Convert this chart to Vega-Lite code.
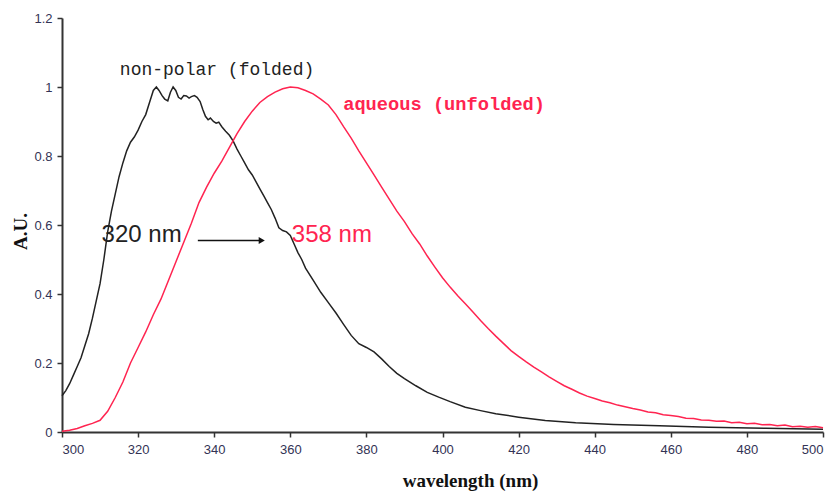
{
  "$schema": "https://vega.github.io/schema/vega-lite/v6.json",
  "autosize": "none",
  "width": 761,
  "height": 414,
  "padding": {"left": 62, "top": 18, "right": 16, "bottom": 62},
  "background": "white",
  "config": {"view": {"stroke": null}},
  "datasets": {
    "spectra": [
      {"wl": 300, "au": 0.105, "s": "non-polar"}, {"wl": 301, "au": 0.12, "s": "non-polar"}, {"wl": 302, "au": 0.14, "s": "non-polar"},
      {"wl": 303, "au": 0.165, "s": "non-polar"}, {"wl": 304, "au": 0.19, "s": "non-polar"}, {"wl": 305, "au": 0.215, "s": "non-polar"},
      {"wl": 306, "au": 0.25, "s": "non-polar"}, {"wl": 307, "au": 0.285, "s": "non-polar"}, {"wl": 308, "au": 0.33, "s": "non-polar"},
      {"wl": 309, "au": 0.38, "s": "non-polar"}, {"wl": 310, "au": 0.43, "s": "non-polar"}, {"wl": 311, "au": 0.5, "s": "non-polar"},
      {"wl": 312, "au": 0.58, "s": "non-polar"}, {"wl": 313, "au": 0.64, "s": "non-polar"}, {"wl": 314, "au": 0.69, "s": "non-polar"},
      {"wl": 315, "au": 0.74, "s": "non-polar"}, {"wl": 316, "au": 0.78, "s": "non-polar"}, {"wl": 317, "au": 0.815, "s": "non-polar"},
      {"wl": 318, "au": 0.84, "s": "non-polar"}, {"wl": 319, "au": 0.855, "s": "non-polar"}, {"wl": 320, "au": 0.875, "s": "non-polar"},
      {"wl": 321, "au": 0.9, "s": "non-polar"}, {"wl": 322, "au": 0.92, "s": "non-polar"}, {"wl": 323, "au": 0.955, "s": "non-polar"},
      {"wl": 324, "au": 0.99, "s": "non-polar"}, {"wl": 324.8, "au": 1.0, "s": "non-polar"}, {"wl": 325.5, "au": 0.99, "s": "non-polar"},
      {"wl": 326.3, "au": 0.975, "s": "non-polar"}, {"wl": 327, "au": 0.965, "s": "non-polar"}, {"wl": 327.8, "au": 0.96, "s": "non-polar"},
      {"wl": 328.5, "au": 0.985, "s": "non-polar"}, {"wl": 329.2, "au": 1.0, "s": "non-polar"}, {"wl": 329.9, "au": 0.99, "s": "non-polar"},
      {"wl": 330.6, "au": 0.97, "s": "non-polar"}, {"wl": 331.3, "au": 0.965, "s": "non-polar"}, {"wl": 332, "au": 0.975, "s": "non-polar"},
      {"wl": 332.7, "au": 0.974, "s": "non-polar"}, {"wl": 333.4, "au": 0.968, "s": "non-polar"}, {"wl": 334, "au": 0.972, "s": "non-polar"},
      {"wl": 334.8, "au": 0.975, "s": "non-polar"}, {"wl": 335.5, "au": 0.97, "s": "non-polar"}, {"wl": 336.3, "au": 0.958, "s": "non-polar"},
      {"wl": 337, "au": 0.935, "s": "non-polar"}, {"wl": 337.7, "au": 0.915, "s": "non-polar"}, {"wl": 338.4, "au": 0.905, "s": "non-polar"},
      {"wl": 339, "au": 0.91, "s": "non-polar"}, {"wl": 339.8, "au": 0.9, "s": "non-polar"}, {"wl": 340.5, "au": 0.895, "s": "non-polar"},
      {"wl": 341.2, "au": 0.898, "s": "non-polar"}, {"wl": 342, "au": 0.885, "s": "non-polar"}, {"wl": 343, "au": 0.872, "s": "non-polar"},
      {"wl": 344, "au": 0.86, "s": "non-polar"}, {"wl": 345, "au": 0.843, "s": "non-polar"}, {"wl": 346, "au": 0.82, "s": "non-polar"},
      {"wl": 347, "au": 0.8, "s": "non-polar"}, {"wl": 348, "au": 0.78, "s": "non-polar"}, {"wl": 349, "au": 0.76, "s": "non-polar"},
      {"wl": 350, "au": 0.745, "s": "non-polar"}, {"wl": 351, "au": 0.725, "s": "non-polar"}, {"wl": 352, "au": 0.705, "s": "non-polar"},
      {"wl": 353, "au": 0.685, "s": "non-polar"}, {"wl": 354, "au": 0.665, "s": "non-polar"}, {"wl": 355, "au": 0.645, "s": "non-polar"},
      {"wl": 356, "au": 0.62, "s": "non-polar"}, {"wl": 357, "au": 0.592, "s": "non-polar"}, {"wl": 358, "au": 0.584, "s": "non-polar"},
      {"wl": 359, "au": 0.58, "s": "non-polar"}, {"wl": 360, "au": 0.57, "s": "non-polar"}, {"wl": 361, "au": 0.545, "s": "non-polar"},
      {"wl": 362, "au": 0.52, "s": "non-polar"}, {"wl": 363, "au": 0.5, "s": "non-polar"}, {"wl": 364, "au": 0.475, "s": "non-polar"},
      {"wl": 366, "au": 0.44, "s": "non-polar"}, {"wl": 368, "au": 0.405, "s": "non-polar"}, {"wl": 370, "au": 0.375, "s": "non-polar"},
      {"wl": 372, "au": 0.345, "s": "non-polar"}, {"wl": 374, "au": 0.312, "s": "non-polar"}, {"wl": 376, "au": 0.28, "s": "non-polar"},
      {"wl": 378, "au": 0.256, "s": "non-polar"}, {"wl": 380, "au": 0.245, "s": "non-polar"}, {"wl": 382, "au": 0.232, "s": "non-polar"},
      {"wl": 384, "au": 0.212, "s": "non-polar"}, {"wl": 386, "au": 0.19, "s": "non-polar"}, {"wl": 388, "au": 0.17, "s": "non-polar"},
      {"wl": 390, "au": 0.155, "s": "non-polar"}, {"wl": 393, "au": 0.134, "s": "non-polar"}, {"wl": 396, "au": 0.115, "s": "non-polar"},
      {"wl": 399, "au": 0.101, "s": "non-polar"}, {"wl": 402, "au": 0.088, "s": "non-polar"}, {"wl": 406, "au": 0.072, "s": "non-polar"},
      {"wl": 410, "au": 0.062, "s": "non-polar"}, {"wl": 414, "au": 0.053, "s": "non-polar"}, {"wl": 420, "au": 0.043, "s": "non-polar"},
      {"wl": 427, "au": 0.033, "s": "non-polar"}, {"wl": 435, "au": 0.027, "s": "non-polar"}, {"wl": 445, "au": 0.022, "s": "non-polar"},
      {"wl": 457, "au": 0.018, "s": "non-polar"}, {"wl": 470, "au": 0.014, "s": "non-polar"}, {"wl": 485, "au": 0.011, "s": "non-polar"},
      {"wl": 500, "au": 0.008, "s": "non-polar"},
      {"wl": 300, "au": 0.002, "s": "aqueous"}, {"wl": 302, "au": 0.005, "s": "aqueous"}, {"wl": 304, "au": 0.01, "s": "aqueous"},
      {"wl": 306, "au": 0.018, "s": "aqueous"}, {"wl": 308, "au": 0.025, "s": "aqueous"}, {"wl": 310, "au": 0.034, "s": "aqueous"},
      {"wl": 312, "au": 0.06, "s": "aqueous"}, {"wl": 314, "au": 0.1, "s": "aqueous"}, {"wl": 316, "au": 0.145, "s": "aqueous"},
      {"wl": 318, "au": 0.2, "s": "aqueous"}, {"wl": 320, "au": 0.245, "s": "aqueous"}, {"wl": 322, "au": 0.29, "s": "aqueous"},
      {"wl": 324, "au": 0.34, "s": "aqueous"}, {"wl": 326, "au": 0.385, "s": "aqueous"}, {"wl": 328, "au": 0.44, "s": "aqueous"},
      {"wl": 330, "au": 0.495, "s": "aqueous"}, {"wl": 332, "au": 0.55, "s": "aqueous"}, {"wl": 334, "au": 0.605, "s": "aqueous"},
      {"wl": 336, "au": 0.665, "s": "aqueous"}, {"wl": 338, "au": 0.71, "s": "aqueous"}, {"wl": 340, "au": 0.75, "s": "aqueous"},
      {"wl": 342, "au": 0.785, "s": "aqueous"}, {"wl": 344, "au": 0.825, "s": "aqueous"}, {"wl": 346, "au": 0.865, "s": "aqueous"},
      {"wl": 348, "au": 0.9, "s": "aqueous"}, {"wl": 350, "au": 0.93, "s": "aqueous"}, {"wl": 352, "au": 0.955, "s": "aqueous"},
      {"wl": 354, "au": 0.972, "s": "aqueous"}, {"wl": 356, "au": 0.985, "s": "aqueous"}, {"wl": 358, "au": 0.995, "s": "aqueous"},
      {"wl": 360, "au": 1.0, "s": "aqueous"}, {"wl": 362, "au": 0.998, "s": "aqueous"}, {"wl": 364, "au": 0.99, "s": "aqueous"},
      {"wl": 366, "au": 0.98, "s": "aqueous"}, {"wl": 368, "au": 0.965, "s": "aqueous"}, {"wl": 370, "au": 0.948, "s": "aqueous"},
      {"wl": 372, "au": 0.92, "s": "aqueous"}, {"wl": 374, "au": 0.885, "s": "aqueous"}, {"wl": 376, "au": 0.852, "s": "aqueous"},
      {"wl": 378, "au": 0.815, "s": "aqueous"}, {"wl": 380, "au": 0.78, "s": "aqueous"}, {"wl": 382, "au": 0.745, "s": "aqueous"},
      {"wl": 384, "au": 0.71, "s": "aqueous"}, {"wl": 386, "au": 0.675, "s": "aqueous"}, {"wl": 388, "au": 0.64, "s": "aqueous"},
      {"wl": 390, "au": 0.61, "s": "aqueous"}, {"wl": 392, "au": 0.575, "s": "aqueous"}, {"wl": 394, "au": 0.545, "s": "aqueous"},
      {"wl": 396, "au": 0.51, "s": "aqueous"}, {"wl": 398, "au": 0.478, "s": "aqueous"}, {"wl": 400, "au": 0.447, "s": "aqueous"},
      {"wl": 402, "au": 0.42, "s": "aqueous"}, {"wl": 404, "au": 0.395, "s": "aqueous"}, {"wl": 406, "au": 0.372, "s": "aqueous"},
      {"wl": 408, "au": 0.348, "s": "aqueous"}, {"wl": 410, "au": 0.323, "s": "aqueous"}, {"wl": 412, "au": 0.3, "s": "aqueous"},
      {"wl": 414, "au": 0.278, "s": "aqueous"}, {"wl": 416, "au": 0.257, "s": "aqueous"}, {"wl": 418, "au": 0.236, "s": "aqueous"},
      {"wl": 420, "au": 0.219, "s": "aqueous"}, {"wl": 422, "au": 0.203, "s": "aqueous"}, {"wl": 424, "au": 0.188, "s": "aqueous"},
      {"wl": 426, "au": 0.174, "s": "aqueous"}, {"wl": 428, "au": 0.16, "s": "aqueous"}, {"wl": 430, "au": 0.147, "s": "aqueous"},
      {"wl": 432, "au": 0.134, "s": "aqueous"}, {"wl": 434, "au": 0.124, "s": "aqueous"}, {"wl": 436, "au": 0.113, "s": "aqueous"},
      {"wl": 438, "au": 0.104, "s": "aqueous"}, {"wl": 440, "au": 0.097, "s": "aqueous"}, {"wl": 442, "au": 0.09, "s": "aqueous"},
      {"wl": 444, "au": 0.085, "s": "aqueous"}, {"wl": 446, "au": 0.078, "s": "aqueous"}, {"wl": 448, "au": 0.073, "s": "aqueous"},
      {"wl": 450, "au": 0.068, "s": "aqueous"}, {"wl": 452, "au": 0.064, "s": "aqueous"}, {"wl": 454, "au": 0.058, "s": "aqueous"},
      {"wl": 456, "au": 0.056, "s": "aqueous"}, {"wl": 458, "au": 0.05, "s": "aqueous"}, {"wl": 460, "au": 0.048, "s": "aqueous"},
      {"wl": 462, "au": 0.045, "s": "aqueous"}, {"wl": 464, "au": 0.04, "s": "aqueous"}, {"wl": 466, "au": 0.039, "s": "aqueous"},
      {"wl": 468, "au": 0.035, "s": "aqueous"}, {"wl": 470, "au": 0.034, "s": "aqueous"}, {"wl": 472, "au": 0.031, "s": "aqueous"},
      {"wl": 474, "au": 0.032, "s": "aqueous"}, {"wl": 476, "au": 0.027, "s": "aqueous"}, {"wl": 478, "au": 0.028, "s": "aqueous"},
      {"wl": 480, "au": 0.024, "s": "aqueous"}, {"wl": 482, "au": 0.025, "s": "aqueous"}, {"wl": 484, "au": 0.021, "s": "aqueous"},
      {"wl": 486, "au": 0.022, "s": "aqueous"}, {"wl": 488, "au": 0.018, "s": "aqueous"}, {"wl": 490, "au": 0.02, "s": "aqueous"},
      {"wl": 492, "au": 0.015, "s": "aqueous"}, {"wl": 494, "au": 0.017, "s": "aqueous"}, {"wl": 496, "au": 0.014, "s": "aqueous"},
      {"wl": 498, "au": 0.016, "s": "aqueous"}, {"wl": 500, "au": 0.012, "s": "aqueous"}
    ],
    "foldedLabel": [
      {"wl": 315.2, "au": 1.048, "s": "non-polar", "label": "non-polar (folded)"}
    ],
    "unfoldedLabel": [
      {"wl": 373.9, "au": 0.952, "s": "aqueous", "label": "aqueous (unfolded)"}
    ],
    "peakLabels": [
      {"wl": 310.4, "au": 0.572, "s": "non-polar", "label": "320 nm"},
      {"wl": 360.4, "au": 0.572, "s": "aqueous", "label": "358 nm"}
    ],
    "shift": [
      {"wl": 335.7, "wl2": 352.5, "au": 0.555}
    ]
  },
  "encoding": {
    "x": {
      "field": "wl", "type": "quantitative",
      "scale": {"domain": [300, 500], "nice": false, "zero": false},
      "axis": {
        "title": "wavelength (nm)", "values": [300, 320, 340, 360, 380, 400, 420, 440, 460, 480, 500],
        "grid": false, "domainColor": "#333333", "domainWidth": 2, "tickColor": "#333333", "tickWidth": 1.5, "tickSize": 5,
        "labelFont": "Liberation Sans", "labelFontSize": 13, "labelColor": "#333355", "labelPadding": 6,
        "titleFont": "Liberation Serif", "titleFontSize": 19, "titleFontWeight": "bold", "titleColor": "#111111",
        "titleX": 408, "titleY": 39, "titleBaseline": "top"
      }
    },
    "y": {
      "field": "au", "type": "quantitative",
      "scale": {"domain": [0, 1.2], "nice": false},
      "axis": {
        "title": "A.U.", "values": [0, 0.2, 0.4, 0.6, 0.8, 1, 1.2], "format": "~g",
        "grid": false, "domainColor": "#333333", "domainWidth": 2, "tickColor": "#333333", "tickWidth": 1.5, "tickSize": 5,
        "labelFont": "Liberation Sans", "labelFontSize": 13, "labelColor": "#333355", "labelPadding": 5,
        "titleFont": "Liberation Serif", "titleFontSize": 19, "titleFontWeight": "bold", "titleColor": "#111111",
        "titleX": -42, "titleY": 213, "titleBaseline": "middle", "titleAlign": "center", "titleAngle": -90
      }
    }
  },
  "layer": [
    {
      "data": {"name": "spectra"},
      "mark": {"type": "line", "strokeWidth": 1.5},
      "encoding": {
        "color": {"field": "s", "type": "nominal", "scale": {"domain": ["non-polar", "aqueous"], "range": ["#222222", "#ff2450"]}, "legend": null},
        "detail": {"field": "s"}
      }
    },
    {
      "data": {"name": "foldedLabel"},
      "mark": {"type": "text", "align": "left", "baseline": "middle", "font": "Liberation Mono", "fontSize": 18},
      "encoding": {
        "text": {"field": "label"},
        "color": {"field": "s", "type": "nominal", "legend": null}
      }
    },
    {
      "data": {"name": "unfoldedLabel"},
      "mark": {"type": "text", "align": "left", "baseline": "middle", "font": "Liberation Mono", "fontSize": 18.7, "fontWeight": "bold"},
      "encoding": {
        "text": {"field": "label"},
        "color": {"field": "s", "type": "nominal", "legend": null}
      }
    },
    {
      "data": {"name": "peakLabels"},
      "mark": {"type": "text", "align": "left", "baseline": "middle", "font": "Liberation Sans", "fontSize": 24},
      "encoding": {
        "text": {"field": "label"},
        "color": {"field": "s", "type": "nominal", "legend": null}
      }
    },
    {
      "data": {"name": "shift"},
      "mark": {"type": "rule", "color": "#111111", "strokeWidth": 1.5},
      "encoding": {"x2": {"field": "wl2"}}
    },
    {
      "data": {"name": "shift"},
      "mark": {"type": "point", "shape": "triangle-right", "filled": true, "color": "#111111", "size": 50, "opacity": 1},
      "encoding": {"x": {"field": "wl2", "type": "quantitative"}}
    }
  ]
}
